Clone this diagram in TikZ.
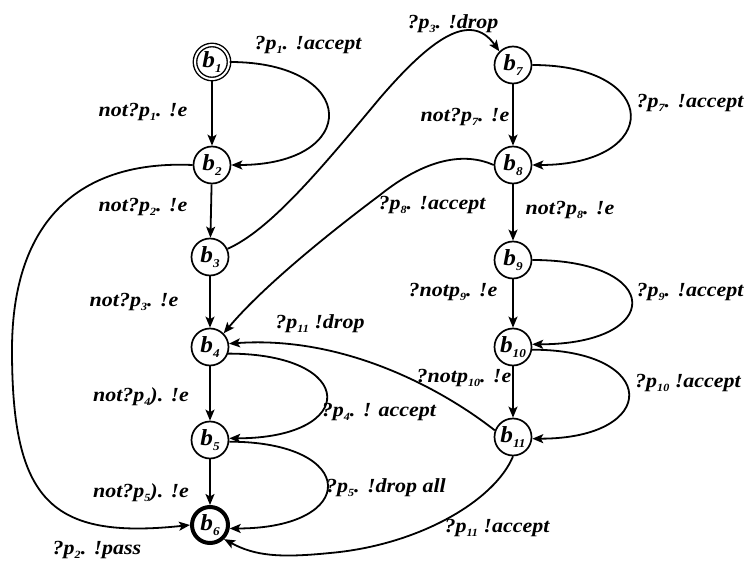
\documentclass[tikz,border=0pt]{standalone}
\usepackage{fontspec}
\setmainfont{Liberation Serif}[FakeStretch=1.1]
\usetikzlibrary{arrows.meta}
% lowered index in edge labels and state names
\newcommand\ix[1]{\raisebox{-0.4ex}{\fontsize{11}{11}\selectfont #1}}
\newcommand\nsub[1]{\raisebox{-0.45ex}{\fontsize{12}{12}\selectfont #1}}

\begin{document}
\begin{tikzpicture}[x=1pt,y=-1pt,
  state/.style={circle,draw,line width=1.7pt,minimum size=37pt,inner sep=0pt,
    font=\fontsize{23}{23}\selectfont\bfseries\itshape},
  edge/.style={line width=1.8pt,-{Stealth[length=11pt,width=9pt,inset=2.5pt]}},
  lbl/.style={inner sep=0pt,font=\fontsize{20}{22}\selectfont\bfseries\itshape}]
\useasboundingbox (0,0) rectangle (746,561);

% states, left column
\node[state,double,line width=1.4pt,double distance=2pt,minimum size=34pt] (b1) at (212,62) {b\nsub{1}};
\node[state] (b2) at (212,165) {b\nsub{2}};
\node[state] (b3) at (210,257) {b\nsub{3}};
\node[state] (b4) at (210,347) {b\nsub{4}};
\node[state] (b5) at (210,440) {b\nsub{5}};
\node[state,line width=4pt,minimum size=36pt] (b6) at (210,525) {b\nsub{6}};
% states, right column
\node[state] (b7) at (513,65) {b\nsub{7}};
\node[state] (b8) at (513,165) {b\nsub{8}};
\node[state] (b9) at (513,260) {b\nsub{9}};
\node[state] (b10) at (513,347) {b\nsub{10}};
\node[state] (b11) at (513,437) {b\nsub{11}};

% straight transitions
\draw[edge] (b1) -- (b2);
\draw[edge] (b2) -- (b3);
\draw[edge] (b3) -- (b4);
\draw[edge] (b4) -- (b5);
\draw[edge] (b5) -- (b6);
\draw[edge] (b7) -- (b8);
\draw[edge] (b8) -- (b9);
\draw[edge] (b9) -- (b10);
\draw[edge] (b10) -- (b11);

% bows on the right of each column
\draw[edge] (b1.east) .. controls +(130,0) and +(130,0) .. (b2.east);
\draw[edge] (b4.-20) .. controls +(130,0) and +(130,0) .. (b5.5);
\draw[edge] (b5.-5) .. controls +(130,0) and +(130,0) .. (b6.-10);
\draw[edge] (b7.east) .. controls +(130,0) and +(130,0) .. (b8.east);
\draw[edge] (b9.east) .. controls +(132,0) and +(132,0) .. (b10.8);
\draw[edge] (b10.-8) .. controls +(128,0) and +(128,0) .. (b11.-5);

% long transitions
\draw[edge] (b2.west) .. controls (80,160) and (12,220) .. (12,350)
            .. controls (12,500) and (50,540) .. (b6.west);
\draw[edge] (b3.25) .. controls (270,230) and (320,170) .. (380,98)
            .. controls (430,40) and (470,10) .. (b7.135);
\draw[edge] (b8.west) .. controls (460,150) and (420,163) .. (380,195)
            .. controls (320,240) and (260,290) .. (b4.45);
\draw[edge] (b11.160) .. controls (450,395) and (350,335) .. (b4.10);
\draw[edge] (b11.south) .. controls (495,500) and (420,545) .. (330,553)
            .. controls (280,558) and (255,556) .. (b6.-45);

% transition labels
\node[lbl] (l1) at (308,45) {?p\ix{1}. !accept};
\node[lbl] (l2) at (143,112) {not?p\ix{1}. !e};
\node[lbl] (l3) at (143,207) {not?p\ix{2}. !e};
\node[lbl] (l4) at (134,302) {not?p\ix{3}. !e};
\node[lbl] (l5) at (141,397) {not?p\ix{4}). !e};
\node[lbl] (l6) at (141,493) {not?p\ix{5}). !e};
\node[lbl] (l7) at (97,550) {?p\ix{2}. !pass};
\node[lbl] (l8) at (453,24) {?p\ix{3}. !drop};
\node[lbl] (l9) at (465,117) {not?p\ix{7}. !e};
\node[lbl] (l10) at (690,103) {?p\ix{7}. !accept};
\node[lbl] (l11) at (432,205) {?p\ix{8}. !accept};
\node[lbl] (l12) at (570,210) {not?p\ix{8}. !e};
\node[lbl] (l13) at (453,292) {?notp\ix{9}. !e};
\node[lbl] (l14) at (690,292) {?p\ix{9}. !accept};
\node[lbl] (l15) at (464,378) {?notp\ix{10}. !e};
\node[lbl] (l16) at (688,383) {?p\ix{10} !accept};
\node[lbl] (l17) at (320,324) {?p\ix{11} !drop};
\node[lbl] (l18) at (379,412) {?p\ix{4}. ! accept};
\node[lbl] (l19) at (386,488) {?p\ix{5}. !drop all};
\node[lbl] (l20) at (497,528) {?p\ix{11} !accept};
\end{tikzpicture}
\end{document}
